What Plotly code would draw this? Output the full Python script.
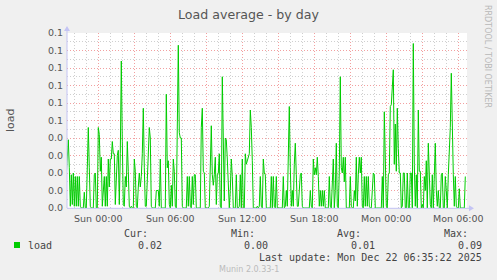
import plotly.graph_objects as go
import pandas as pd

# ---------------- data ----------------
start_time = "2025-12-20 21:20:00"
step = "5min"
load = [
    0.019, 0.030, 0.039, 0.023, 0.001, 0.019, 0.002, 0.020, 0.001, 0.018,
    0.001, 0.018, 0.001, 0.018, 0.001, 0, 0, 0, 0.009, 0,
    0, 0.025, 0.046, 0.023, 0.001, 0, 0, 0, 0.019, 0.020,
    0, 0, 0.046, 0.042, 0.021, 0.029, 0.001, 0.012, 0.018, 0.001,
    0.018, 0.001, 0.028, 0.012, 0.028, 0.028, 0.038, 0.031, 0.031, 0.002,
    0.023, 0.030, 0.033, 0.002, 0.031, 0.084, 0.038, 0.002, 0.001, 0.018,
    0.012, 0.038, 0.021, 0.001, 0, 0.001, 0, 0, 0.028, 0.021,
    0.001, 0, 0.012, 0.020, 0.012, 0.018, 0.031, 0.057, 0.023, 0.001,
    0.001, 0.021, 0.031, 0.046, 0.040, 0.001, 0, 0, 0, 0,
    0.010, 0.010, 0.010, 0.001, 0.028, 0, 0, 0, 0, 0,
    0.065, 0.023, 0.027, 0.002, 0, 0.013, 0.001, 0.028, 0.021, 0.001,
    0, 0.046, 0.093, 0.043, 0.040, 0.040, 0.001, 0, 0, 0,
    0, 0.018, 0.001, 0.018, 0.001, 0, 0.018, 0.002, 0.019, 0.019,
    0, 0, 0, 0, 0, 0.046, 0.057, 0.021, 0.020, 0,
    0, 0, 0, 0.001, 0.027, 0.047, 0.019, 0.013, 0.019, 0.029,
    0.002, 0.019, 0.020, 0.031, 0.001, 0, 0.075, 0.028, 0.004, 0.040,
    0.039, 0.028, 0.012, 0, 0.010, 0.028, 0.018, 0, 0, 0,
    0.019, 0, 0, 0.001, 0.019, 0, 0.028, 0, 0, 0.031,
    0.025, 0.027, 0.029, 0.031, 0.056, 0.046, 0.027, 0, 0, 0,
    0, 0.001, 0, 0.001, 0.018, 0.001, 0, 0.028, 0.020, 0.019,
    0, 0, 0, 0, 0, 0.018, 0, 0.018, 0.001, 0,
    0.018, 0, 0, 0, 0, 0, 0, 0.018, 0, 0.001,
    0.010, 0.001, 0.025, 0.058, 0.023, 0.001, 0.010, 0.001, 0.025, 0.037,
    0.019, 0.001, 0.001, 0.010, 0.019, 0.020, 0.001, 0, 0, 0,
    0, 0, 0, 0, 0.010, 0.001, 0, 0.028, 0.019, 0.023,
    0.019, 0.029, 0.018, 0.001, 0.010, 0.001, 0.010, 0.001, 0.010, 0,
    0, 0, 0, 0.018, 0.001, 0, 0.013, 0.028, 0, 0.010,
    0.037, 0.001, 0, 0.021, 0.075, 0.023, 0.020, 0.029, 0.015, 0.029,
    0, 0, 0, 0, 0.018, 0.001, 0, 0, 0.010, 0.004,
    0.029, 0.001, 0.019, 0.029, 0.020, 0.029, 0.001, 0, 0.018, 0.001,
    0.018, 0.001, 0.018, 0.001, 0, 0, 0.010, 0.020, 0.019, 0,
    0, 0, 0, 0, 0, 0, 0.018, 0, 0.055, 0.019,
    0.001, 0, 0.019, 0.020, 0.058, 0.059, 0.069, 0.079, 0.025, 0.048,
    0.021, 0.057, 0.034, 0.020, 0.020, 0, 0.001, 0.020, 0.020, 0,
    0, 0.020, 0, 0, 0.020, 0.020, 0, 0.094, 0.025, 0.001,
    0.019, 0, 0.056, 0.021, 0.021, 0, 0.002, 0, 0.018, 0.010,
    0.027, 0, 0.037, 0.019, 0.002, 0, 0.019, 0, 0.019, 0.037,
    0.010, 0.001, 0.010, 0, 0, 0.019, 0.020, 0, 0, 0.018,
    0.010, 0, 0.019, 0.029, 0.046, 0.077, 0.036, 0.019, 0.001, 0.018,
    0.001, 0, 0, 0.011, 0, 0, 0, 0, 0, 0.018,
]

x_tick_times = [
    "2025-12-21 00:00", "2025-12-21 03:00", "2025-12-21 06:00", "2025-12-21 09:00",
    "2025-12-21 12:00", "2025-12-21 15:00", "2025-12-21 18:00", "2025-12-21 21:00",
    "2025-12-22 00:00", "2025-12-22 03:00", "2025-12-22 06:00",
]
x_tick_labels = [
    "Sun 00:00", "", "Sun 06:00", "", "Sun 12:00", "", "Sun 18:00", "",
    "Mon 00:00", "", "Mon 06:00",
]
y_tick_vals = [0.00, 0.01, 0.02, 0.03, 0.04, 0.05, 0.06, 0.07, 0.08, 0.09, 0.10]
y_tick_labels = ["0.0", "0.0", "0.0", "0.0", "0.0", "0.1", "0.1", "0.1", "0.1", "0.1", "0.1"]
x_range = ["2025-12-20 21:23:30", "2025-12-22 06:43:30"]
y_range = [0, 0.10]

title_text = "Load average - by day"
y_title = "load"
series_name = "load"
last_update = "Mon Dec 22 06:35:22 2025"
version_text = "Munin 2.0.33-1"
side_text = "RRDTOOL / TOBI OETIKER"

times = pd.date_range(start_time, periods=len(load), freq=step)
cur_v, min_v, avg_v, max_v = load[-1], min(load), sum(load) / len(load), max(load)

# ---------------- styling ----------------
W, H = 497, 280
L, T, PW, PH = 67, 33, 400, 175
GREEN = "#00cc00"
TXT = "#555555"
SANS = "DejaVu Sans"
MONO = "DejaVu Sans Mono"
AXIS = "#c4c4f4"


def px(x):
    return (x - L) / PW


def py(y):
    return (T + PH - y) / PH


fig = go.Figure()
fig.add_trace(go.Scatter(x=times, y=load, mode="lines", name=series_name,
                         line=dict(color=GREEN, width=1), hoverinfo="skip"))

ann = []


def text(x, y, s, size, color=TXT, family=SANS, xanchor="center", angle=0):
    ann.append(dict(x=px(x), y=py(y), xref="paper", yref="paper", text=s,
                    showarrow=False, xanchor=xanchor, yanchor="middle",
                    textangle=angle, font=dict(family=family, size=size, color=color)))


text(248.5, 14, title_text, 12.6)
text(10, 120, y_title, 11, angle=-90)
text(488, 56, side_text, 8, color="#b8b8b8", angle=90)
# legend block
text(26, 245, series_name, 10, color="#444444", family=MONO, xanchor="left")
for xr, head, val in [(163.5, "Cur:", cur_v), (270, "Min:", min_v),
                      (376.5, "Avg:", avg_v), (483.5, "Max:", max_v)]:
    text(xr - 13.5, 233.5, head, 10, color="#444444", family=MONO, xanchor="right")
    text(xr, 245, f"{val:.2f}", 10, color="#444444", family=MONO, xanchor="right")
text(483.5, 257.5, "Last update: " + last_update, 10, color="#444444", family=MONO, xanchor="right")
text(248.5, 269, version_text, 8, color="#bbbbbb")

shapes = [
    # legend colour square
    dict(type="rect", xref="paper", yref="paper", x0=px(14), x1=px(20), y0=py(248), y1=py(242),
         fillcolor=GREEN, line=dict(width=0)),
    # axis extensions and arrow heads
    dict(type="line", xref="paper", yref="paper", x0=px(67), x1=px(67), y0=py(208), y1=py(30),
         line=dict(color=AXIS, width=1)),
    dict(type="line", xref="paper", yref="paper", x0=px(67), x1=px(470), y0=py(208.3), y1=py(208.3),
         line=dict(color=AXIS, width=1)),
    dict(type="path", xref="paper", yref="paper",
         path=f"M {px(64)},{py(31)} L {px(67)},{py(26)} L {px(70)},{py(31)} Z",
         fillcolor=AXIS, line=dict(width=0)),
    dict(type="path", xref="paper", yref="paper",
         path=f"M {px(469)},{py(205.3)} L {px(474)},{py(208.3)} L {px(469)},{py(211.3)} Z",
         fillcolor=AXIS, line=dict(width=0)),
]

fig.update_layout(
    width=W, height=H,
    margin=dict(l=L, r=W - L - PW, t=T, b=H - T - PH, pad=0),
    paper_bgcolor="#f0f0f0", plot_bgcolor="#ffffff",
    showlegend=False,
    annotations=ann, shapes=shapes,
    font=dict(family=SANS, size=9.5, color=TXT),
)
fig.update_xaxes(
    type="date", range=x_range, tickmode="array", tickvals=x_tick_times, ticktext=x_tick_labels,
    showgrid=True, gridcolor="#f2a0a0", griddash="1px,2px", gridwidth=1,
    minor=dict(dtick=3600000, tick0="2025-12-21 00:00", showgrid=True,
               gridcolor="#cfcfcf", griddash="1px,2px", gridwidth=1),
    ticks="", showline=False, zeroline=False, ticklabelstandoff=3,
    tickfont=dict(family=SANS, size=9.5, color=TXT),
)
fig.update_yaxes(
    range=y_range, tickmode="array", tickvals=y_tick_vals, ticktext=y_tick_labels,
    showgrid=True, gridcolor="#f2a0a0", griddash="1px,2px", gridwidth=1,
    minor=dict(dtick=0.005, tick0=0, showgrid=True,
               gridcolor="#cfcfcf", griddash="1px,2px", gridwidth=1),
    ticks="", showline=False, zeroline=False, ticklabelstandoff=3,
    tickfont=dict(family=SANS, size=9.5, color=TXT),
)

fig.write_html("out.html")
